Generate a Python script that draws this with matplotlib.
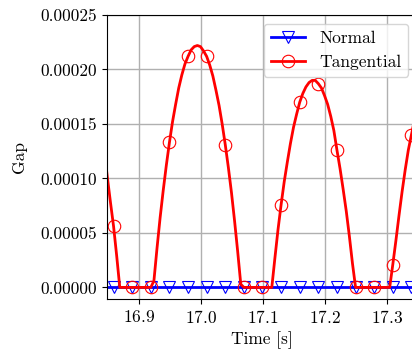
import numpy as np
import matplotlib
matplotlib.use('Agg')
import matplotlib.pyplot as plt

plt.rcParams['font.family'] = 'serif'
plt.rcParams['font.serif'] = ['cmr10']
plt.rcParams['mathtext.fontset'] = 'cm'
plt.rcParams['axes.formatter.use_mathtext'] = True
plt.rcParams['font.size'] = 12.5

# time grid (s), 0.005 s step
time = np.round(16.839 + 0.005 * np.arange(103), 3)

# gap values in units of 1e-4
tangential = np.array([
    1.48, 1.25, 1.01, 0.78, 0.56, 0.29, 0.00,
    0, 0, 0, 0, 0, 0, 0, 0, 0, 0,
    0.06, 0.36, 0.64, 0.89, 1.12, 1.33, 1.52, 1.68, 1.83, 1.95,
    2.05, 2.12, 2.18, 2.21, 2.22, 2.21, 2.17, 2.12, 2.04, 1.94,
    1.81, 1.67, 1.50, 1.31, 1.10, 0.87, 0.61, 0.33, 0.03,
    0, 0, 0, 0, 0, 0, 0, 0, 0, 0,
    0.27, 0.53, 0.76, 0.97, 1.15, 1.32, 1.47, 1.59, 1.70, 1.78,
    1.84, 1.88, 1.90, 1.90, 1.87, 1.83, 1.76, 1.68, 1.57, 1.44,
    1.26, 1.09, 0.90, 0.70, 0.47, 0.22,
    0, 0, 0, 0, 0, 0, 0, 0, 0, 0, 0, 0,
    0.21, 0.43, 0.66, 0.88, 1.08, 1.26, 1.40, 1.54, 1.66,
]) * 1e-4
normal = np.zeros(len(time))

fig = plt.figure(figsize=(4.12, 3.56), dpi=100)
ax = fig.add_axes([107 / 412, 57 / 356, 310 / 412, 284 / 356])

ax.plot(time, normal, color='blue', lw=2, marker='v', ms=9, mfc='none',
        mec='blue', mew=0.8, markevery=(4, 6), label='Normal')
ax.plot(time, tangential, color='red', lw=2, marker='o', ms=9, mfc='none',
        mec='red', mew=0.8, markevery=(4, 6), label='Tangential')

ax.set_xlim(16.8484, 17.348)
ax.set_ylim(-1.063e-5, 0.00025)
ax.set_xticks([16.9, 17.0, 17.1, 17.2, 17.3])
ax.set_yticks([0, 0.00005, 0.0001, 0.00015, 0.0002, 0.00025])
ax.set_yticklabels(['0.00000', '0.00005', '0.00010', '0.00015', '0.00020', '0.00025'])
ax.grid(True, color='#b0b0b0', lw=1)
ax.set_xlabel('Time [s]')
ax.set_ylabel('Gap')
ax.yaxis.set_label_coords(-0.257, 0.5)
ax.legend(loc='upper right')

fig.savefig('out.png', dpi=100)
